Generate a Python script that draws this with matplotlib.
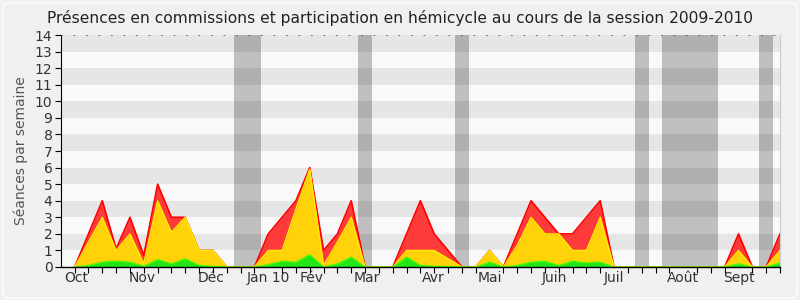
import matplotlib.pyplot as plt
import numpy as np
from matplotlib.patches import FancyBboxPatch

# weekly values, session 2009-2010 (week 0 = start of October)
total = [0, 2, 4, 1.1, 3, 0.7, 5, 3, 3, 1, 1, 0, 0, 0, 2, 3, 4, 6, 1, 2, 4, 0,
         0, 0, 2, 4, 2, 1, 0, 0, 1, 0, 2, 4, 3, 2, 2, 3, 4, 0, 0, 0, 0, 0, 0,
         0, 0, 0, 2, 0, 0, 2]
participation = [0, 1.5, 3, 1, 2, 0.2, 4, 2.1, 3, 1, 1, 0, 0, 0, 1, 1, 3.5, 5.9,
                 0.1, 1.5, 3, 0, 0, 0, 1, 1, 1, 0.5, 0, 0, 1, 0, 1.3, 3, 2, 2, 1,
                 1, 3, 0, 0, 0, 0, 0, 0, 0, 0, 0, 1, 0, 0, 1]
interventions = [0, 0.1, 0.3, 0.35, 0.3, 0.05, 0.45, 0.2, 0.5, 0.1, 0.05, 0, 0, 0,
                 0.15, 0.35, 0.3, 0.75, 0, 0.2, 0.6, 0, 0, 0, 0.6, 0.1, 0.05, 0.03,
                 0, 0, 0.3, 0, 0.1, 0.3, 0.35, 0.1, 0.35, 0.25, 0.3, 0, 0, 0, 0, 0,
                 0, 0, 0, 0, 0.2, 0, 0, 0.25]
vacances = [12, 13, 21, 28, 41, 43, 44, 45, 46, 50]
mois = ['Oct', 'Nov', 'Déc', 'Jan 10', 'Fév', 'Mar', 'Avr', 'Mai', 'Juin',
        'Juil', 'Août', 'Sept']
mois_pos = [0.1, 4.9, 9.9, 14, 17.1, 21.1, 25.9, 30, 34.7, 39, 44, 48]

weeks = np.arange(len(total))

fig = plt.figure(figsize=(8, 3), dpi=100, facecolor='#F0F0F0')
fig.patches.append(FancyBboxPatch((0.004, 0.006), 0.992, 0.985,
                                  boxstyle='round,pad=0,rounding_size=0.012',
                                  transform=fig.transFigure, facecolor='none',
                                  edgecolor='#FAFAFA', lw=1.2))
ax = fig.add_axes([0.076, 0.11, 0.899, 0.773])
ax.set_facecolor('#F9F9F9')

# horizontal stripes
for y in range(1, 14, 2):
    ax.axhspan(y, y + 1, color='#E6E6E6', lw=0, zorder=0)

# vacation bands (merge consecutive weeks)
runs = []
for w in vacances:
    if runs and runs[-1][1] == w - 1:
        runs[-1][1] = w
    else:
        runs.append([w, w])
for a, b in runs:
    ax.axvspan(a - 0.5, b + 0.5, color='#191919', alpha=0.26, lw=0, zorder=1)

ax.fill_between(weeks, total, color='#FF3A3A', lw=0, zorder=2)
ax.plot(weeks, total, color='#FF0000', lw=1.2, zorder=3)
ax.fill_between(weeks, participation, color='#FFD20A', lw=0, zorder=4)
ax.plot(weeks, participation, color='#FFEE00', lw=1.0, zorder=5)
ax.fill_between(weeks, interventions, color='#22E61A', lw=0, zorder=6)
ax.plot(weeks, interventions, color='#33FF00', lw=0.8, zorder=7)

ax.set_xlim(-1, 51)
ax.set_ylim(0, 14)
ax.set_yticks(range(0, 15))
ax.set_xticks(weeks, minor=True)
ax.set_xticks(mois_pos)
ax.set_xticklabels(mois)
ax.tick_params(axis='x', which='major', length=0, pad=3, labelsize=10, colors='#333333')
ax.tick_params(axis='x', which='minor', length=4, width=0.8, color='black')
ax.tick_params(axis='y', length=4, width=0.8, pad=2, labelsize=10, labelcolor='#333333')

ax.spines['top'].set_linestyle((0, (1, 14)))
ax.spines['top'].set_linewidth(0.6)
ax.spines['top'].set_color('#555555')
ax.spines['right'].set_color('#CCCCCC')
ax.spines['left'].set_linewidth(0.8)
ax.spines['bottom'].set_linewidth(1)
for s in ax.spines.values():
    s.set_zorder(8)

ax.set_ylabel('Séances par semaine', fontsize=10, color='#555555', labelpad=5)
fig.text(0.5, 0.94, 'Présences en commissions et participation en hémicycle au cours de la session 2009-2010',
         ha='center', va='center', fontsize=11.2, color='#222222')

fig.savefig('out.png', dpi=100, facecolor=fig.get_facecolor())
